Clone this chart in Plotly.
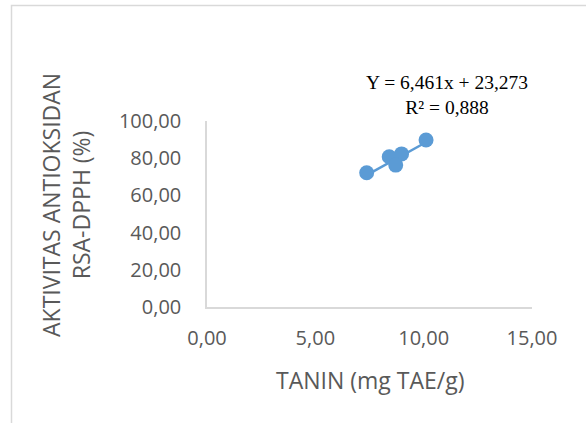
import plotly.graph_objects as go

# Data
tanin = [7.37, 8.41, 8.98, 8.71, 10.11]
rsa_dpph = [72.2, 80.8, 82.3, 76.3, 89.8]
slope = 6.461
intercept = 23.273
x_ticks = [0, 5, 10, 15]
x_tick_labels = ["0,00", "5,00", "10,00", "15,00"]
y_ticks = [0, 20, 40, 60, 80, 100]
y_tick_labels = ["0,00", "20,00", "40,00", "60,00", "80,00", "100,00"]
equation_text = "Y = 6,461x + 23,273<br>R² = 0,888"
x_title = "TANIN (mg TAE/g)"
y_title = "AKTIVITAS ANTIOKSIDAN<br>RSA-DPPH (%)"

blue = "#5B9BD5"
grey_text = "#595959"
axis_grey = "#D9D9D9"

x_line = [min(tanin), max(tanin)]
y_line = [slope * v + intercept for v in x_line]

fig = go.Figure()
fig.add_trace(go.Scatter(x=x_line, y=y_line, mode="lines",
                         line=dict(color=blue, width=2.5), hoverinfo="skip",
                         showlegend=False))
fig.add_trace(go.Scatter(x=tanin, y=rsa_dpph, mode="markers",
                         marker=dict(color=blue, size=15), showlegend=False))

W, H = 586, 423
L, R, T, B = 207, 54, 121, 116
pw, ph = W - L - R, H - T - B

def px_x(p):
    return (p - L) / pw

def px_y(p):
    return (H - B - p) / ph

fig.update_layout(
    width=W, height=H,
    margin=dict(l=L, r=R, t=T, b=B),
    paper_bgcolor="white", plot_bgcolor="white",
    font=dict(family="Open Sans", size=20, color=grey_text),
    xaxis=dict(range=[0, 15], tickvals=x_ticks, ticktext=x_tick_labels,
               showgrid=False, zeroline=False, showline=True,
               linecolor=axis_grey, linewidth=1.5, ticks="",
               ticklabelstandoff=12,
               tickfont=dict(family="Open Sans", size=20, color=grey_text)),
    yaxis=dict(range=[0, 100], tickvals=y_ticks, ticktext=y_tick_labels,
               showgrid=False, zeroline=False, showline=True,
               linecolor=axis_grey, linewidth=1.5, ticks="",
               ticklabelstandoff=20,
               tickfont=dict(family="Open Sans", size=20, color=grey_text)),
    shapes=[dict(type="rect", xref="paper", yref="paper",
                 x0=px_x(11.5), x1=px_x(W + 20), y0=px_y(H + 20), y1=px_y(5.5),
                 line=dict(color=axis_grey, width=1.5), fillcolor="rgba(0,0,0,0)",
                 layer="below")],
    annotations=[
        dict(text=x_title, xref="paper", yref="paper", x=px_x(370), y=px_y(380),
             showarrow=False, font=dict(family="Open Sans", size=23, color=grey_text),
             xanchor="center", yanchor="middle"),
        dict(text=y_title, xref="paper", yref="paper", x=px_x(66), y=px_y(205),
             showarrow=False, textangle=-90,
             font=dict(family="Open Sans", size=23, color=grey_text),
             xanchor="center", yanchor="middle"),
        dict(text=equation_text, xref="paper", yref="paper", x=px_x(447), y=px_y(95),
             showarrow=False, align="center",
             font=dict(family="Liberation Serif", size=19.5, color="black"),
             xanchor="center", yanchor="middle"),
    ],
)

fig.write_html("out.html", config={"displayModeBar": False},
               post_script="document.body.style.margin='0';document.body.style.padding='0';")
